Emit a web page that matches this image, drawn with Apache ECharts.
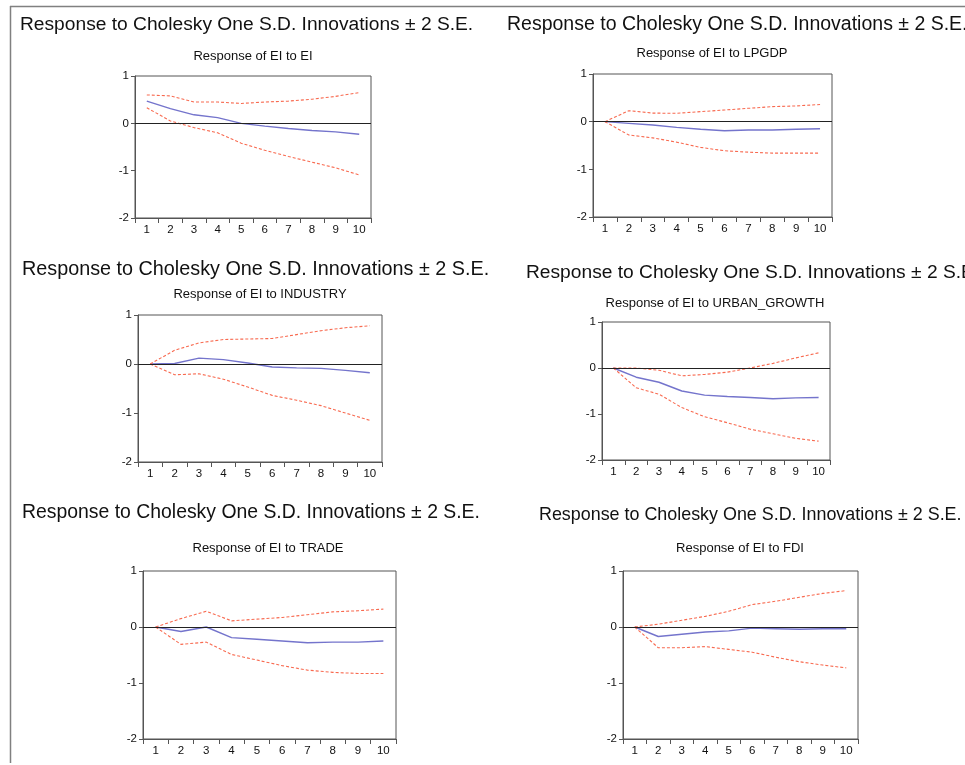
<!DOCTYPE html>
<html>
<head>
<meta charset="utf-8">
<script src="https://cdn.jsdelivr.net/npm/echarts@6/dist/echarts.min.js"></script>
<style>
html,body{margin:0;padding:0;background:#fff;}
#c{width:965px;height:765px;}
</style>
</head>
<body>
<div id="c"></div>
<script>
var periods = ['1','2','3','4','5','6','7','8','9','10'];
var mainTitle = 'Response to Cholesky One S.D. Innovations \u00b1 2 S.E.';
var subTitles = ['Response of EI to EI','Response of EI to LPGDP','Response of EI to INDUSTRY','Response of EI to URBAN_GROWTH','Response of EI to TRADE','Response of EI to FDI'];

var eiResp   = [0.47, 0.31, 0.18, 0.12, 0.00, -0.06, -0.11, -0.15, -0.18, -0.23];
var eiUp     = [0.60, 0.58, 0.45, 0.45, 0.42, 0.45, 0.47, 0.51, 0.57, 0.65];
var eiLo     = [0.33, 0.05, -0.09, -0.20, -0.42, -0.57, -0.70, -0.82, -0.94, -1.09];

var gdpResp  = [0, -0.035, -0.07, -0.12, -0.16, -0.19, -0.175, -0.175, -0.16, -0.15];
var gdpUp    = [0, 0.23, 0.18, 0.175, 0.21, 0.245, 0.28, 0.315, 0.33, 0.36];
var gdpLo    = [0, -0.28, -0.34, -0.43, -0.54, -0.61, -0.64, -0.66, -0.66, -0.66];

var indResp  = [0, 0.01, 0.12, 0.09, 0.02, -0.06, -0.08, -0.09, -0.13, -0.18];
var indUp    = [0, 0.28, 0.43, 0.50, 0.51, 0.52, 0.60, 0.68, 0.74, 0.78];
var indLo    = [0, -0.22, -0.20, -0.31, -0.47, -0.64, -0.74, -0.85, -1.00, -1.15];

var urbResp  = [0, -0.20, -0.31, -0.50, -0.59, -0.62, -0.64, -0.67, -0.65, -0.64];
var urbUp    = [0, 0.00, -0.05, -0.17, -0.14, -0.09, 0.00, 0.10, 0.22, 0.33];
var urbLo    = [0, -0.43, -0.57, -0.86, -1.06, -1.19, -1.33, -1.43, -1.53, -1.59];

var trdResp  = [0, -0.08, 0.00, -0.19, -0.22, -0.25, -0.28, -0.27, -0.27, -0.25];
var trdUp    = [0, 0.15, 0.28, 0.11, 0.14, 0.17, 0.22, 0.27, 0.29, 0.32];
var trdLo    = [0, -0.31, -0.27, -0.49, -0.59, -0.69, -0.77, -0.81, -0.83, -0.83];

var fdiResp  = [0, -0.17, -0.13, -0.09, -0.07, -0.02, -0.03, -0.04, -0.03, -0.03];
var fdiUp    = [0, 0.05, 0.12, 0.19, 0.28, 0.40, 0.46, 0.53, 0.60, 0.65];
var fdiLo    = [0, -0.37, -0.37, -0.35, -0.40, -0.45, -0.54, -0.62, -0.68, -0.73];

var panelData = [
  [eiResp, eiUp, eiLo],
  [gdpResp, gdpUp, gdpLo],
  [indResp, indUp, indLo],
  [urbResp, urbUp, urbLo],
  [trdResp, trdUp, trdLo],
  [fdiResp, fdiUp, fdiLo]
];

// layout: grid box and title positions
var layout = [
  {l:135, t:76,  w:236, h:142, mx:20,  my:25,  ms:19.2, sx:253, sy:56},
  {l:593, t:74,  w:239, h:143, mx:507, my:25,  ms:19.5, sx:712, sy:53},
  {l:138, t:315, w:244, h:147, mx:22,  my:270, ms:19.8, sx:260, sy:294},
  {l:602, t:322, w:228, h:138, mx:526, my:273, ms:19.2, sx:715, sy:303},
  {l:143, t:571, w:253, h:168, mx:22,  my:513, ms:19.4, sx:268, sy:548},
  {l:623, t:571, w:235, h:168, mx:539, my:515, ms:17.9, sx:740, sy:548}
];

var FONT = '"Liberation Sans", Arial, sans-serif';
var grids = [], xAxes = [], yAxes = [], series = [], graphics = [];

graphics.push({type:'line', shape:{x1:10, y1:6.5, x2:965, y2:6.5}, style:{stroke:'#808080', lineWidth:1.5}, silent:true});
graphics.push({type:'line', shape:{x1:10.5, y1:6, x2:10.5, y2:763}, style:{stroke:'#808080', lineWidth:1.5}, silent:true});

layout.forEach(function(p, i){
  grids.push({left:p.l, top:p.t, width:p.w, height:p.h, show:true, borderColor:'#555', borderWidth:1, backgroundColor:'transparent', containLabel:false});
  xAxes.push({
    type:'category', gridIndex:i, data:periods, boundaryGap:true,
    axisLine:{show:true, onZero:false, lineStyle:{color:'#555', width:1}},
    axisTick:{show:true, inside:false, length:5, alignWithLabel:false, lineStyle:{color:'#555'}},
    axisLabel:{show:true, margin:6, fontSize:11.5, color:'#111', fontFamily:FONT, interval:0},
    splitLine:{show:false}
  });
  yAxes.push({
    type:'value', gridIndex:i, min:-2, max:1, interval:1,
    axisLine:{show:true, lineStyle:{color:'#555', width:1}},
    axisTick:{show:true, inside:false, length:4, lineStyle:{color:'#555'}},
    axisLabel:{show:true, margin:6, fontSize:11.5, color:'#111', fontFamily:FONT},
    splitLine:{show:false}
  });
  var d = panelData[i];
  series.push({
    type:'line', xAxisIndex:i, yAxisIndex:i, data:d[0], symbol:'none', silent:true,
    lineStyle:{color:'#7474cc', width:1.4, type:'solid'}, z:3,
    markLine:{silent:true, symbol:'none', label:{show:false}, animation:false,
      lineStyle:{color:'#222', width:1, type:'solid'}, data:[{yAxis:0}]}
  });
  series.push({
    type:'line', xAxisIndex:i, yAxisIndex:i, data:d[1], symbol:'none', silent:true,
    lineStyle:{color:'#f86a50', width:1.1, type:[3,2]}, z:4
  });
  series.push({
    type:'line', xAxisIndex:i, yAxisIndex:i, data:d[2], symbol:'none', silent:true,
    lineStyle:{color:'#f86a50', width:1.1, type:[3,2]}, z:4
  });
  graphics.push({type:'text', x:p.mx, y:p.my, silent:true,
    style:{text:mainTitle, fontSize:p.ms, fontFamily:FONT, fill:'#111', align:'left', verticalAlign:'middle'}});
  graphics.push({type:'text', x:p.sx, y:p.sy, silent:true,
    style:{text:subTitles[i], fontSize:13, fontFamily:FONT, fill:'#111', align:'center', verticalAlign:'middle'}});
});

var chart = echarts.init(document.getElementById('c'), null, {renderer:'canvas'});
chart.setOption({
  backgroundColor:'#fff',
  animation:false,
  grid:grids, xAxis:xAxes, yAxis:yAxes, series:series, graphic:graphics
});
</script>
</body>
</html>
